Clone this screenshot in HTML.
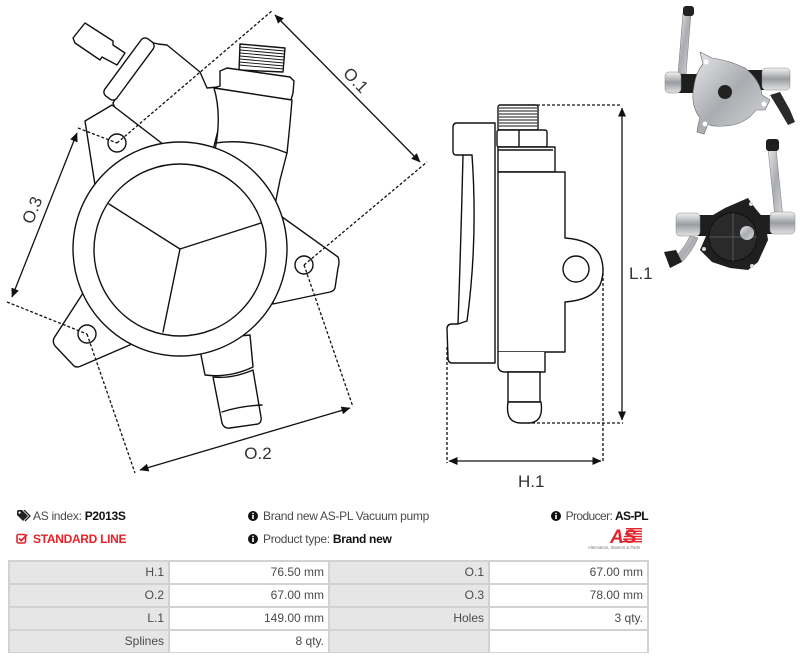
<!DOCTYPE html>
<html><head><meta charset="utf-8"><style>
html,body{margin:0;padding:0;background:#fff;}
body{width:800px;height:662px;position:relative;overflow:hidden;font-family:"Liberation Sans",Arial,sans-serif;}
.t{position:absolute;font-size:12px;color:#4a4a4a;white-space:nowrap;line-height:14px;letter-spacing:-0.3px;}
.t b{color:#111;}
.grid{position:absolute;left:8px;top:560px;width:641px;height:93px;background:#d2d2d2;}
.c{position:absolute;height:21px;line-height:21px;font-size:12px;color:#4a4a4a;text-align:right;box-sizing:border-box;padding-right:4px;background:#fff;white-space:nowrap;}
.c.l{background:#e6e6e6;}
</style></head><body>
<svg width="800" height="500" style="position:absolute;left:0;top:0" xmlns="http://www.w3.org/2000/svg">
<defs>
<marker id="ar" markerWidth="9" markerHeight="8" refX="8.5" refY="4" orient="auto-start-reverse" markerUnits="userSpaceOnUse">
<path d="M0,0 L9,4 L0,8 Z" fill="#111"/></marker>
<linearGradient id="sil" x1="0" y1="0" x2="1" y2="1"><stop offset="0" stop-color="#e8e8ea"/><stop offset="0.5" stop-color="#a9acb0"/><stop offset="1" stop-color="#d8d9db"/></linearGradient>
<linearGradient id="silv" x1="0" y1="0" x2="0" y2="1"><stop offset="0" stop-color="#f2f2f2"/><stop offset="0.5" stop-color="#9a9da1"/><stop offset="1" stop-color="#e2e2e2"/></linearGradient>
</defs>
<g fill="#fff" stroke="#111" stroke-width="1.4" stroke-linejoin="round" stroke-linecap="round">
<path d="M73,38 L85,23 L113,41 L113,45 L125,53 L117,65 L102,57 L100,60 L75,43 Z"/>
<path d="M150,42 L158,44 L167,45 L200,72 L207,88 L218,87 L222,115 L213,150 L205,180 L140,180 L113,103 Z"/>
<rect x="-35.5" y="-7.5" width="71" height="15" rx="5" transform="translate(129,69) rotate(-53.6)"/>
<path d="M95,185 L85,121 L112,105 L168,148 Z"/>
<path d="M240,44 L285,48 L283,72 L239,70 Z"/>
<path d="M220,71 L227,68 L290,77 L294,81 L293,93 L291,100 L214,88 L220,86 Z"/>
<path d="M214,88 Q222,115 215,150 L208,180 L275,205 L280,180 L287,153 Q290,125 292,100 Z"/>
<path d="M215,143 Q250,138 287,153" fill="none"/>
<path d="M278,214 L338,257 Q340,262 338,268 L335,288 Q334,291 330,292 L273,304 Z"/>
<path d="M85,290 L54,338 Q52,343 56,347 L74,366 Q77,368 81,366 L132,344 Z"/>
<path d="M198,340 L205,375 Q230,378 253,367 L250,335 Z"/>
<path d="M213,377 L222,423 Q224,429 230,428 L258,424 Q262,422 261,417 L253,370 Q232,379 213,377 Z"/>
<path d="M222,412 Q240,406 262,405" fill="none"/>
<circle cx="180" cy="249" r="107"/>
<circle cx="180" cy="250" r="86"/>
<path d="M109,204 L180,249 L261,223 M180,249 L163,332" fill="none"/>
<circle cx="117" cy="143" r="9"/>
<circle cx="304" cy="265" r="9"/>
<circle cx="87" cy="334" r="9"/>
</g>
<g stroke="#111" stroke-width="0.9">
<line x1="240" y1="47" x2="285" y2="51"/><line x1="240" y1="50" x2="285" y2="54"/><line x1="240" y1="53" x2="285" y2="57"/><line x1="240" y1="56" x2="284" y2="60"/><line x1="240" y1="59" x2="284" y2="63"/><line x1="239" y1="62" x2="284" y2="66"/><line x1="239" y1="65" x2="284" y2="69"/>
</g>
<g stroke="#111" stroke-width="1.3" stroke-dasharray="3,2" fill="none">
<line x1="78" y1="128" x2="117" y2="143"/>
<line x1="117" y1="143" x2="273" y2="10"/>
<line x1="304" y1="265" x2="427" y2="162"/>
<line x1="7" y1="302" x2="87" y2="334"/>
<line x1="87" y1="334" x2="135" y2="473"/>
<line x1="304" y1="265" x2="353" y2="407"/>
<line x1="527" y1="105" x2="622" y2="105"/>
<line x1="527" y1="423" x2="623" y2="423"/>
<line x1="447" y1="347" x2="447" y2="463"/>
<line x1="603" y1="268" x2="603" y2="463"/>
</g>
<g stroke="#111" stroke-width="1.3" fill="none">
<line x1="275" y1="15" x2="420" y2="162" marker-start="url(#ar)" marker-end="url(#ar)"/>
<line x1="77" y1="133" x2="12" y2="297" marker-start="url(#ar)" marker-end="url(#ar)"/>
<line x1="140" y1="470" x2="350" y2="408" marker-start="url(#ar)" marker-end="url(#ar)"/>
<line x1="622" y1="108" x2="622" y2="420" marker-start="url(#ar)" marker-end="url(#ar)"/>
<line x1="449" y1="461" x2="601" y2="461" marker-start="url(#ar)" marker-end="url(#ar)"/>
</g>
<g font-family="Liberation Sans, sans-serif" font-size="17" fill="#333">
<text x="356" y="86" text-anchor="middle" transform="rotate(46 356 80)">O.1</text>
<text x="32" y="216" text-anchor="middle" transform="rotate(-68 32 210)">O.3</text>
<text x="258" y="459" text-anchor="middle">O.2</text>
<text x="518" y="487">H.1</text>
<text x="629" y="279">L.1</text>
</g>
<g fill="#fff" stroke="#111" stroke-width="1.4" stroke-linejoin="round">
<path d="M457,123 L495,123 L495,363 L452,363 Q448,363 448,358 L447,329 Q447,324 452,324 L458,324 Q461,240 463,155 L456,155 Q453,155 453,151 L453,127 Q453,123 457,123 Z"/>
<path d="M463,155 L472,155 Q478,240 467,321 L458,324" fill="none"/>
<rect x="498" y="105" width="40" height="25" rx="2"/>
<rect x="497" y="130" width="50" height="17" rx="2"/>
<line x1="519" y1="130" x2="519" y2="147"/>
<rect x="498" y="147" width="57" height="25"/>
<line x1="498" y1="150" x2="553" y2="150"/>
<path d="M498,172 L565,172 L565,238 Q592,240 600,255 Q606,270 600,285 Q592,300 565,302 L565,352 L498,352 Z"/>
<circle cx="576" cy="269" r="13"/>
<path d="M498,352 L498,365 Q498,372 505,372 L545,372 L545,352"/>
<rect x="508" y="372" width="32" height="30"/>
<path d="M508,402 Q505,423 521,423 L528,423 Q544,423 541,402 Z"/>
</g>
<g stroke="#111" stroke-width="0.9">
<line x1="499" y1="108" x2="537" y2="108"/><line x1="499" y1="111" x2="537" y2="111"/><line x1="499" y1="114" x2="537" y2="114"/><line x1="499" y1="117" x2="537" y2="117"/><line x1="499" y1="120" x2="537" y2="120"/><line x1="499" y1="123" x2="537" y2="123"/><line x1="499" y1="126" x2="537" y2="126"/>
</g>
<g>
<path d="M683,13 L691,13 L686,74 L678,74 Z" fill="url(#sil)" stroke="#777" stroke-width="0.5"/>
<rect x="683" y="6" width="11" height="10" rx="3" fill="#222"/>
<rect x="678" y="74" width="24" height="19" fill="#1e1e1e"/>
<rect x="665" y="72" width="16" height="21" rx="4" fill="url(#silv)" stroke="#888" stroke-width="0.5"/>
<rect x="748" y="70" width="16" height="20" fill="#1e1e1e"/>
<rect x="762" y="68" width="28" height="22" rx="4" fill="url(#silv)" stroke="#888" stroke-width="0.5"/>
<path d="M770,95 L780,92 L790,110 L795,122 L788,125 L778,108 Z" fill="#2a2a2a"/>
<path d="M700,52 L712,58 Q728,60 745,68 Q760,80 762,95 L770,100 L765,110 L756,110 Q745,125 725,126 Q712,127 708,124 L704,134 L697,132 Q698,124 700,118 Q690,105 694,86 Q696,72 703,64 Z" fill="url(#sil)" stroke="#666" stroke-width="0.6"/>
<circle cx="725" cy="92" r="7" fill="#222"/>
<circle cx="706" cy="62" r="2.5" fill="#fff"/>
<circle cx="764" cy="104" r="2.5" fill="#fff"/>
<circle cx="705" cy="124" r="2.5" fill="#fff"/>
</g>
<g>
<path d="M768,148 L776,148 L783,218 L775,218 Z" fill="url(#sil)" stroke="#777" stroke-width="0.5"/>
<rect x="766" y="139" width="13" height="12" rx="3" fill="#1e1e1e"/>
<path d="M690,236 Q684,248 676,256 L682,262 Q692,252 698,238 Z" fill="url(#sil)" stroke="#777" stroke-width="0.5"/>
<path d="M664,252 L676,250 L682,262 L670,268 Z" fill="#1e1e1e"/>
<rect x="698" y="215" width="16" height="21" fill="#1e1e1e"/>
<rect x="676" y="213" width="24" height="23" rx="4" fill="url(#silv)" stroke="#888" stroke-width="0.5"/>
<rect x="758" y="215" width="14" height="19" fill="#1e1e1e"/>
<rect x="770" y="212" width="25" height="22" rx="4" fill="url(#silv)" stroke="#888" stroke-width="0.5"/>
<path d="M713,215 L725,208 L748,198 L755,208 L765,220 L768,240 L758,262 L748,270 L730,268 L712,262 L700,250 L706,236 Z" fill="#1f1f1f"/>
<circle cx="733" cy="237" r="24" fill="#2a2a2a" stroke="#111"/>
<line x1="733" y1="213" x2="733" y2="261" stroke="#555" stroke-width="1"/>
<line x1="709" y1="237" x2="757" y2="237" stroke="#555" stroke-width="1"/>
<circle cx="747" cy="233" r="7" fill="url(#sil)"/>
<circle cx="751" cy="204" r="2" fill="#ddd"/>
<circle cx="704" cy="249" r="2" fill="#ddd"/>
<circle cx="752" cy="266" r="2" fill="#ddd"/>
</g>
</svg>

<svg style="position:absolute;left:17px;top:510px" width="14" height="12" viewBox="0 0 14 12">
<path d="M0,1 L0,5 L6,11 L11,6 L5,0 L1,0 Z" fill="#222"/><circle cx="2.6" cy="2.6" r="1.1" fill="#fff"/>
<path d="M7,0 L13,6 L8,11" fill="none" stroke="#222" stroke-width="1.3"/></svg>
<div class="t" style="left:33px;top:509px;">AS index: <b>P2013S</b></div>
<svg style="position:absolute;left:16px;top:533px" width="12" height="11" viewBox="0 0 12 11">
<rect x="1" y="1.5" width="8.5" height="8.5" rx="1.5" fill="none" stroke="#e3232c" stroke-width="1.6"/>
<path d="M3,5.5 L5.2,7.6 L11,1.8" fill="none" stroke="#e3232c" stroke-width="1.8"/></svg>
<div class="t" style="left:33px;top:532px;color:#e3232c;font-weight:bold;">STANDARD LINE</div>

<svg style="position:absolute;left:248px;top:511px" width="10" height="10" viewBox="0 0 10 10"><circle cx="5" cy="5" r="5" fill="#111"/><rect x="4.2" y="4" width="1.6" height="4" fill="#fff"/><circle cx="5" cy="2.5" r="0.9" fill="#fff"/></svg>
<div class="t" style="left:263px;top:509px;">Brand new AS-PL Vacuum pump</div>
<svg style="position:absolute;left:248px;top:534px" width="10" height="10" viewBox="0 0 10 10"><circle cx="5" cy="5" r="5" fill="#111"/><rect x="4.2" y="4" width="1.6" height="4" fill="#fff"/><circle cx="5" cy="2.5" r="0.9" fill="#fff"/></svg>
<div class="t" style="left:263px;top:532px;">Product type: <b>Brand new</b></div>

<svg style="position:absolute;left:551px;top:511px" width="10" height="10" viewBox="0 0 10 10"><circle cx="5" cy="5" r="5" fill="#111"/><rect x="4.2" y="4" width="1.6" height="4" fill="#fff"/><circle cx="5" cy="2.5" r="0.9" fill="#fff"/></svg>
<div class="t" style="right:152px;top:509px;letter-spacing:-0.6px;">Producer: <b>AS-PL</b></div>

<svg style="position:absolute;left:586px;top:526px" width="64" height="26" viewBox="0 0 64 26">
<g fill="#e3232c"><rect x="40" y="2" width="16" height="1.4"/><rect x="40" y="4.6" width="16" height="1.4"/><rect x="39" y="7.2" width="17" height="1.4"/><rect x="38" y="9.8" width="18" height="1.4"/><rect x="37" y="12.4" width="19" height="1.4"/><rect x="36" y="15" width="20" height="1.4"/></g>
<text x="24" y="17" font-family="Liberation Sans, sans-serif" font-size="19" font-weight="bold" font-style="italic" fill="#e3232c">AS</text>
<text x="2" y="23" font-family="Liberation Sans, sans-serif" font-size="4.2" fill="#777">Alternators, Starters &amp; Parts</text>
</svg>

<div class="grid"></div>
<div class="c l" style="left:10px;top:562px;width:158px;">H.1</div>
<div class="c" style="left:170px;top:562px;width:158px;">76.50 mm</div>
<div class="c l" style="left:330px;top:562px;width:158px;">O.1</div>
<div class="c" style="left:490px;top:562px;width:157px;">67.00 mm</div>
<div class="c l" style="left:10px;top:585px;width:158px;">O.2</div>
<div class="c" style="left:170px;top:585px;width:158px;">67.00 mm</div>
<div class="c l" style="left:330px;top:585px;width:158px;">O.3</div>
<div class="c" style="left:490px;top:585px;width:157px;">78.00 mm</div>
<div class="c l" style="left:10px;top:608px;width:158px;">L.1</div>
<div class="c" style="left:170px;top:608px;width:158px;">149.00 mm</div>
<div class="c l" style="left:330px;top:608px;width:158px;">Holes</div>
<div class="c" style="left:490px;top:608px;width:157px;">3 qty.</div>
<div class="c l" style="left:10px;top:631px;width:158px;">Splines</div>
<div class="c" style="left:170px;top:631px;width:158px;">8 qty.</div>
<div class="c l" style="left:330px;top:631px;width:158px;"></div>
<div class="c" style="left:490px;top:631px;width:157px;"></div>
</body></html>
